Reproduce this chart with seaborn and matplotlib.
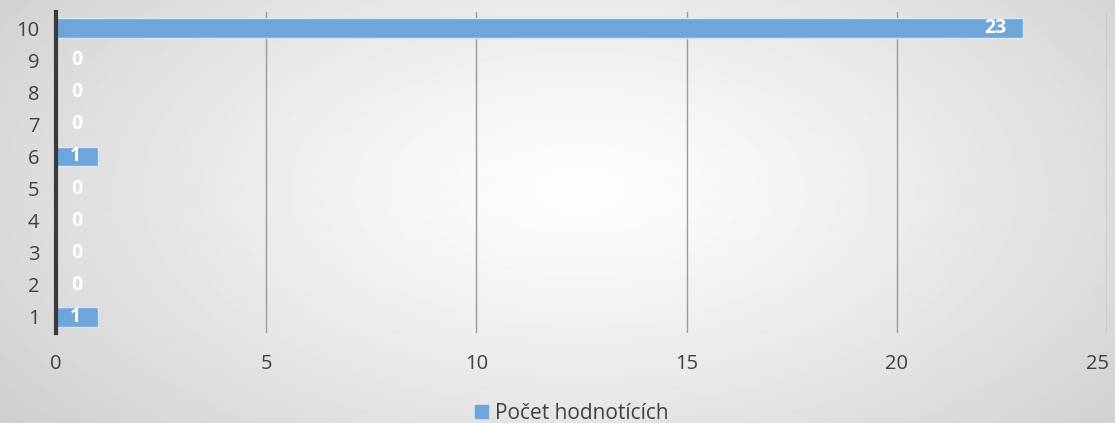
import numpy as np
import pandas as pd
import matplotlib
matplotlib.use('Agg')
import matplotlib.pyplot as plt
import matplotlib.transforms as mtransforms
import seaborn as sns

# --- Dados ---
hodnoceni = ['10', '9', '8', '7', '6', '5', '4', '3', '2', '1']
pocet = [23, 0, 0, 0, 1, 0, 0, 0, 0, 1]
x_ticks = [0, 5, 10, 15, 20, 25]
nazev_serie = 'Počet hodnotících'

df = pd.DataFrame({'hodnoceni': hodnoceni, 'pocet': pocet})

sns.set_style('white')
plt.rcParams['font.family'] = ['Open Sans', 'DejaVu Sans']

fig = plt.figure(figsize=(11.15, 4.23), dpi=100)

# fundo com gradiente radial
bg = fig.add_axes([0, 0, 1, 1], zorder=0)
h, w = 423, 1115
yy, xx = np.mgrid[0:h, 0:w]
r = np.sqrt(((xx - 580) / 620.0) ** 2 + ((yy - 190) / 330.0) ** 2)
r = np.clip(r, 0, 1.25)
val = 0.995 - 0.2 * (r / 1.25) ** 1.2
bg.imshow(val, cmap='gray', vmin=0, vmax=1, aspect='auto', extent=[0, 1, 0, 1])
bg.axis('off')

ax = fig.add_axes([0.0502, 0.2128, 0.9426, 0.7589], zorder=1)
ax.patch.set_alpha(0)

cor = '#6FA6DA'
sns.barplot(data=df, x='pocet', y='hodnoceni', order=hodnoceni, orient='h',
            color=cor, saturation=1, width=0.6, edgecolor='#D6E6F4', linewidth=1,
            ax=ax, zorder=3)

ax.set_xlim(0, 25)
ax.set_ylim(len(hodnoceni) - 0.5, -0.5)
ax.set_xticks(x_ticks)
ax.grid(axis='x', color='#9A9A9A', linewidth=1, zorder=0)
ax.grid(axis='y', visible=False)
for s in ['top', 'right', 'bottom']:
    ax.spines[s].set_visible(False)
ax.spines['left'].set_color('#3A3A3A')
ax.spines['left'].set_linewidth(3)
ax.spines['left'].set_zorder(5)
ax.tick_params(axis='both', length=0, labelsize=14.5, colors='#404040')
ax.tick_params(axis='x', pad=15)
ax.tick_params(axis='y', pad=12)
ax.set_xlabel('')
ax.set_ylabel('')

# o último rótulo do eixo x fica um pouco para dentro (como no Excel)
posun = mtransforms.ScaledTranslation(-7 / 72, 0, fig.dpi_scale_trans)
posledni = ax.get_xticklabels()[-1]
posledni.set_transform(posledni.get_transform() + posun)

# rótulos de dados
for i, v in enumerate(pocet):
    if v > 0:
        ax.annotate(str(v), (v, i), xytext=(-12, 0), textcoords='offset points',
                    ha='right', va='center', color='white', fontsize=14,
                    fontweight='bold', zorder=6)
    else:
        ax.annotate(str(v), (0, i), xytext=(11, 0), textcoords='offset points',
                    ha='left', va='center', color='white', fontsize=14,
                    fontweight='bold', zorder=6)

handle = plt.Rectangle((0, 0), 1, 1, color=cor)
fig.legend([handle], [nazev_serie], loc='center', bbox_to_anchor=(0.513, 0.022),
           frameon=False, fontsize=15, handlelength=0.6, handleheight=0.6,
           handletextpad=0.35, labelcolor='#404040')

fig.savefig('out.png', dpi=100)
